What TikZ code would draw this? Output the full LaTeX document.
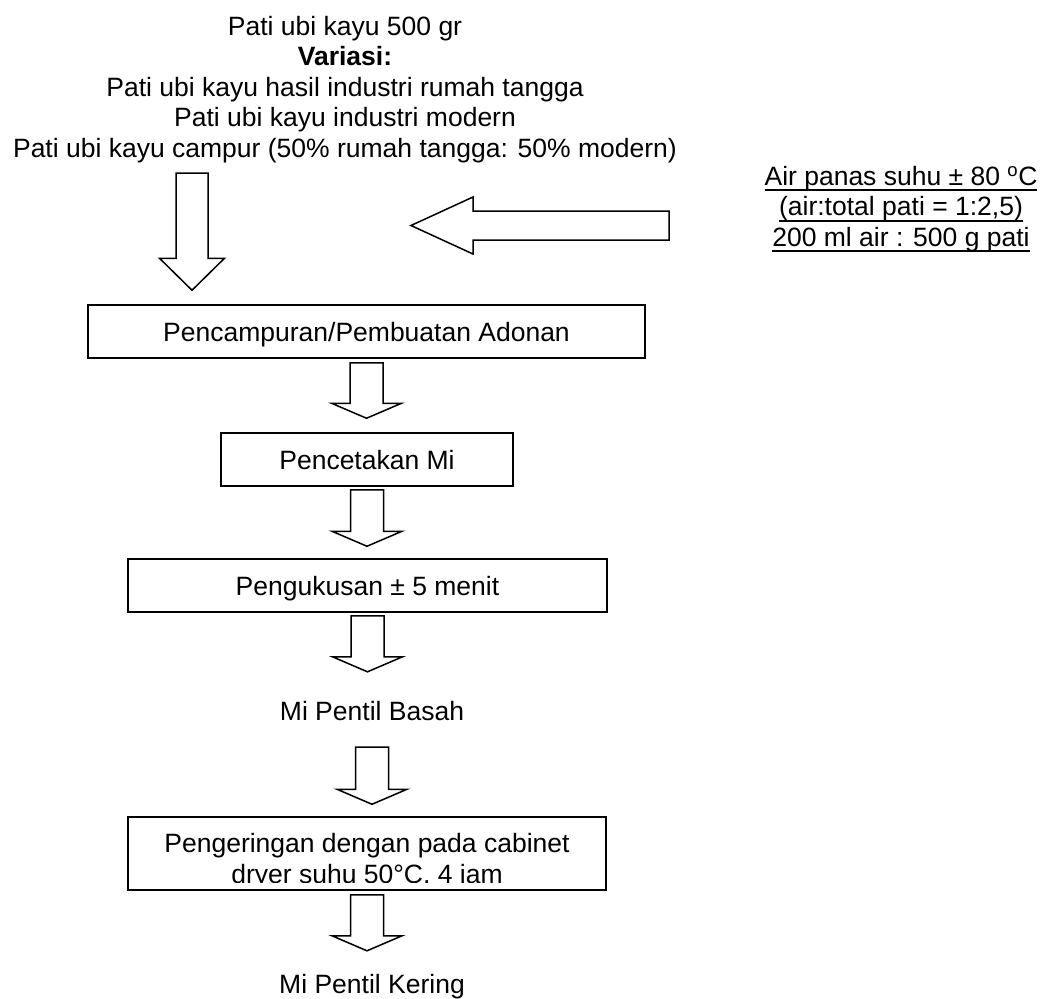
\documentclass[tikz,border=0pt]{standalone}
\usepackage{fontspec}
\setmainfont{Liberation Sans}
\usetikzlibrary{calc}

\newsavebox{\ulbox}
\newcommand{\ulined}[1]{\sbox{\ulbox}{#1}\rlap{\rule[-5.8pt]{\wd\ulbox}{1.8pt}}\usebox{\ulbox}}

\tikzset{
  stepbox/.style={draw, line width=1.5pt, inner sep=0pt, minimum height=53pt, text height=19pt, text depth=0pt},
  blockarrow/.style={draw, line width=1.5pt, line join=miter},
  flowtext/.style={inner sep=0pt, align=center}
}

% hollow arrow pointing down: top point, tip point, shaft half width, head half width, head length
\newcommand{\downblock}[5]{%
  \draw[blockarrow] let \p1=#1, \p2=#2 in
    (\x1-#3,\y1) -- (\x1+#3,\y1) -- (\x1+#3,\y2+#5) -- (\x1+#4,\y2+#5) -- (\x1,\y2)
    -- (\x1-#4,\y2+#5) -- (\x1-#3,\y2+#5) -- cycle;}

\begin{document}
\begin{tikzpicture}[x=1pt, y=1pt, font=\fontsize{26.5}{30.5}\selectfont]
	\useasboundingbox (0,0) rectangle (1053,-999);
	\node[flowtext, anchor=north] (pati) at (345,-16) {Pati ubi kayu 500 gr\\\textbf{Variasi:}\\Pati ubi kayu hasil industri rumah tangga\\Pati ubi kayu industri modern\\Pati ubi kayu campur (50\% rumah tangga: 50\% modern)};
	\node[flowtext, anchor=north] (air) at (901,-166) {\ulined{Air panas suhu ± 80 \textsuperscript{o}C}\\\ulined{(air:total pati = 1:2,5)}\\\ulined{200 ml air : 500 g pati}};
	\node[stepbox, minimum width=557pt] (mix) at (366.5,-331.5) {Pencampuran/Pembuatan Adonan};
	\node[stepbox, minimum width=292pt] (print) at (367,-459.5) {Pencetakan Mi};
	\node[stepbox, minimum width=479pt] (steam) at (367.5,-585.5) {Pengukusan ± 5 menit};
	\node[inner sep=0pt, text height=19pt, text depth=0pt] (wet) at (372,-710.5) {Mi Pentil Basah};
	\node[stepbox, minimum width=478pt, minimum height=73pt] (dry) at (367,-853.5) {};
	\begin{scope}
		\clip (dry.north west) rectangle ($(dry.south east)+(0,8)$);
		\node[flowtext, anchor=north] (drytext) at ($(dry.north)+(0,-17)$) {Pengeringan dengan pada cabinet\\dryer suhu 50°C, 4 jam};
	\end{scope}
	\node[inner sep=0pt, text height=19pt, text depth=0pt] (dried) at (372,-983.5) {Mi Pentil Kering};
	% arrows
	\coordinate (feed) at (192,-173);
	\downblock{(feed)}{($(feed |- mix.north)+(0,14)$)}{16}{32.5}{32}
	\coordinate (hot) at (669,-225.5);
	\coordinate (hotend) at (411,-225.5);
	\draw[blockarrow] let \p1=(hot), \p2=(hotend) in
		(\x1,\y1+14.5) -- (\x2+62,\y1+14.5) -- (\x2+62,\y1+28.5) -- (\x2,\y1)
		-- (\x2+62,\y1-28.5) -- (\x2+62,\y1-14.5) -- (\x1,\y1-14.5) -- cycle;
	\downblock{($(mix.south)+(0,-4)$)}{($(print.north)+(0,14)$)}{16.5}{35}{15}
	\downblock{($(print.south)+(0,-3)$)}{($(steam.north)+(0,12)$)}{16.5}{35}{15}
	\downblock{($(steam.south)+(0,-3)$)}{($(wet.north)+(0,29)$)}{16.5}{35}{15}
	\downblock{($(wet.south)+(0,-27)$)}{($(dry.north)+(0,12)$)}{16.5}{35}{15}
	\downblock{($(dry.south)+(0,-4)$)}{($(dried.north)+(0,23)$)}{16.5}{35}{15}
\end{tikzpicture}
\end{document}
